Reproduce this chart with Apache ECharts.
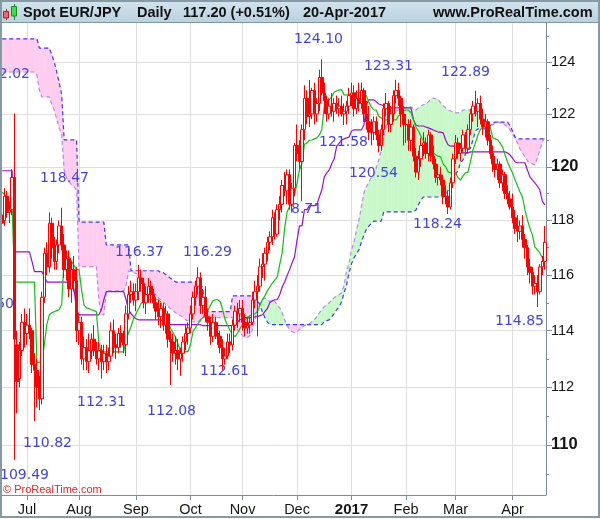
<!DOCTYPE html>
<html><head><meta charset="utf-8">
<script src="https://cdn.jsdelivr.net/npm/echarts@6/dist/echarts.min.js"></script>
<style>html,body{margin:0;padding:0;background:#fff}#c{width:600px;height:519px}</style>
</head><body><div id="c"></div>
<script>
// ---------- DATA ----------
const dates = [
'2016-06-17','2016-06-20','2016-06-21','2016-06-22','2016-06-23','2016-06-24','2016-06-27','2016-06-28','2016-06-29','2016-06-30',
'2016-07-01','2016-07-04','2016-07-05','2016-07-06','2016-07-07','2016-07-08','2016-07-11','2016-07-12','2016-07-13','2016-07-14','2016-07-15','2016-07-18','2016-07-19','2016-07-20','2016-07-21','2016-07-22','2016-07-25','2016-07-26','2016-07-27','2016-07-28','2016-07-29',
'2016-08-01','2016-08-02','2016-08-03','2016-08-04','2016-08-05','2016-08-08','2016-08-09','2016-08-10','2016-08-11','2016-08-12','2016-08-15','2016-08-16','2016-08-17','2016-08-18','2016-08-19','2016-08-22','2016-08-23','2016-08-24','2016-08-25','2016-08-26','2016-08-29','2016-08-30','2016-08-31',
'2016-09-01','2016-09-02','2016-09-05','2016-09-06','2016-09-07','2016-09-08','2016-09-09','2016-09-12','2016-09-13','2016-09-14','2016-09-15','2016-09-16','2016-09-19','2016-09-20','2016-09-21','2016-09-22','2016-09-23','2016-09-26','2016-09-27','2016-09-28','2016-09-29','2016-09-30',
'2016-10-03','2016-10-04','2016-10-05','2016-10-06','2016-10-07','2016-10-10','2016-10-11','2016-10-12','2016-10-13','2016-10-14','2016-10-17','2016-10-18','2016-10-19','2016-10-20','2016-10-21','2016-10-24','2016-10-25','2016-10-26','2016-10-27','2016-10-28','2016-10-31',
'2016-11-01','2016-11-02','2016-11-03','2016-11-04','2016-11-07','2016-11-08','2016-11-09','2016-11-10','2016-11-11','2016-11-14','2016-11-15','2016-11-16','2016-11-17','2016-11-18','2016-11-21','2016-11-22','2016-11-23','2016-11-24','2016-11-25','2016-11-28','2016-11-29','2016-11-30',
'2016-12-01','2016-12-02','2016-12-05','2016-12-06','2016-12-07','2016-12-08','2016-12-09','2016-12-12','2016-12-13','2016-12-14','2016-12-15','2016-12-16','2016-12-19','2016-12-20','2016-12-21','2016-12-22','2016-12-23','2016-12-26','2016-12-27','2016-12-28','2016-12-29','2016-12-30',
'2017-01-02','2017-01-03','2017-01-04','2017-01-05','2017-01-06','2017-01-09','2017-01-10','2017-01-11','2017-01-12','2017-01-13','2017-01-16','2017-01-17','2017-01-18','2017-01-19','2017-01-20','2017-01-23','2017-01-24','2017-01-25','2017-01-26','2017-01-27','2017-01-30','2017-01-31',
'2017-02-01','2017-02-02','2017-02-03','2017-02-06','2017-02-07','2017-02-08','2017-02-09','2017-02-10','2017-02-13','2017-02-14','2017-02-15','2017-02-16','2017-02-17','2017-02-20','2017-02-21','2017-02-22','2017-02-23','2017-02-24','2017-02-27','2017-02-28',
'2017-03-01','2017-03-02','2017-03-03','2017-03-06','2017-03-07','2017-03-08','2017-03-09','2017-03-10','2017-03-13','2017-03-14','2017-03-15','2017-03-16','2017-03-17','2017-03-20','2017-03-21','2017-03-22','2017-03-23','2017-03-24','2017-03-27','2017-03-28','2017-03-29','2017-03-30','2017-03-31',
'2017-04-03','2017-04-04','2017-04-05','2017-04-06','2017-04-07','2017-04-10','2017-04-11','2017-04-12','2017-04-13','2017-04-14','2017-04-17','2017-04-18','2017-04-19','2017-04-20'
];

const openP = [
118.2,118.0,118.9,118.3,118.4,119.6,113.5,112.3,113.3,114.3,
113.9,114.2,114.0,112.8,112.6,112.0,111.6,115.2,116.8,116.3,
117.9,117.0,116.5,117.1,117.8,117.1,116.2,116.6,115.5,116.2,
115.8,114.0,114.3,113.0,113.4,112.9,113.3,113.7,113.3,113.0,
113.3,112.9,113.2,112.9,113.1,114.0,113.5,113.4,113.9,113.6,
113.5,114.6,115.3,115.4,115.1,115.4,115.9,115.7,115.0,115.3,
115.6,115.3,115.0,114.7,114.5,114.8,114.2,114.6,113.7,113.6,
113.2,113.3,113.0,113.2,113.6,113.9,114.1,114.6,115.2,115.6,
115.9,114.9,115.2,114.5,114.3,113.8,114.3,113.9,113.8,113.4,
113.0,113.1,113.6,113.5,114.2,114.7,114.6,114.8,114.3,114.1,
114.2,114.3,115.1,115.4,115.6,116.3,116.4,116.8,117.2,117.4,
118.1,117.5,118.4,118.6,119.3,119.1,119.7,118.6,119.2,120.8,
120.5,120.2,121.4,122.6,121.9,122.0,122.9,122.0,122.4,123.4,
122.8,122.5,122.0,122.3,122.1,122.4,122.2,122.3,122.0,122.1,
122.3,122.7,122.8,122.2,122.6,122.4,122.9,122.0,121.7,121.3,
121.3,121.7,121.2,120.8,121.4,122.2,122.4,121.6,122.0,122.7,
122.9,122.6,122.0,121.6,121.6,121.0,121.5,120.4,119.8,120.3,
120.8,120.9,120.5,121.2,120.4,120.1,119.6,119.7,119.5,118.9,
118.9,118.5,119.4,120.3,120.9,120.5,120.7,121.2,120.7,121.4,
122.0,122.3,122.1,122.4,121.8,121.5,121.7,121.0,120.5,120.1,
119.9,120.1,119.4,119.7,119.0,118.8,118.5,118.1,117.7,117.6,
117.8,117.3,117.0,116.3,116.1,115.6,115.7,115.4,116.3,116.5
];
const highP = [
118.6,119.2,119.1,118.7,119.9,122.02,114.0,113.6,114.6,114.8,
114.6,114.8,114.1,113.2,113.0,112.4,115.4,117.0,117.2,118.3,
118.1,117.4,117.3,118.0,118.47,117.5,116.9,116.9,116.5,116.7,
116.3,114.6,114.5,113.8,113.7,113.9,113.9,114.2,113.6,113.6,
113.5,113.5,113.5,113.4,114.3,114.4,113.9,114.1,114.2,114.0,
114.9,115.6,115.8,115.7,115.7,116.37,116.2,115.9,115.6,115.9,
115.8,115.5,115.2,115.1,115.0,115.0,114.9,114.7,114.0,113.9,
113.8,113.7,113.4,113.8,114.2,114.3,114.9,115.4,115.8,116.29,
116.1,115.5,115.6,114.8,114.5,114.6,114.5,114.3,114.0,113.7,
113.4,113.9,113.9,114.4,114.9,115.0,115.1,115.1,114.6,114.5,
114.5,115.4,115.8,116.0,116.6,116.8,117.0,117.4,117.6,118.4,
118.3,118.6,118.9,119.5,119.8,119.9,119.9,119.4,120.9,121.6,
121.0,121.6,123.1,122.9,123.3,123.0,123.2,122.6,123.7,124.10,
123.2,122.7,122.6,122.8,122.6,122.7,122.6,122.7,122.4,122.5,
123.0,123.2,123.1,122.9,123.2,123.2,123.0,122.5,122.3,121.8,
121.9,121.9,121.4,121.6,122.4,122.8,122.5,122.3,122.9,123.31,
123.2,122.7,122.3,122.0,121.8,121.8,121.6,120.7,120.6,121.1,
121.3,121.1,121.4,121.3,120.8,120.3,119.9,120.0,119.7,119.3,
119.1,119.6,120.5,121.2,121.1,120.9,121.4,121.3,121.6,122.2,
122.5,122.89,122.6,122.7,122.2,122.0,121.8,121.2,120.8,120.4,
120.3,120.2,119.9,119.8,119.3,119.1,119.0,118.4,118.2,118.0,
118.2,117.5,117.1,116.6,116.3,116.0,116.0,116.4,116.7,117.8
];
const lowP = [
117.6,117.8,118.1,117.9,118.2,109.49,111.1,112.0,113.1,113.4,
113.5,113.7,112.5,110.82,111.3,111.2,111.4,115.0,116.0,116.1,
116.6,116.2,116.2,116.8,116.9,115.9,115.8,115.2,115.0,115.4,
113.6,113.5,112.8,112.6,112.6,112.5,113.0,113.1,112.8,112.6,
112.31,112.6,112.5,112.6,113.0,113.2,113.0,113.2,113.4,113.2,
113.1,114.4,115.0,114.9,114.7,115.1,115.4,114.8,114.6,115.0,
115.0,114.8,114.4,114.2,114.1,114.0,113.9,113.4,112.08,112.9,
112.8,112.6,112.4,112.9,113.3,113.5,113.9,114.4,114.9,115.3,
114.6,114.6,114.3,114.0,113.5,113.6,113.7,113.5,113.2,112.61,
112.8,113.0,113.2,113.3,114.0,114.1,114.3,114.0,113.8,113.9,
113.9,114.2,114.8,113.8,115.4,115.9,115.8,116.5,116.9,117.1,
117.3,117.4,118.0,118.3,118.9,118.6,118.4,118.3,118.9,120.2,
119.9,118.71,121.0,121.6,121.5,121.8,121.6,121.7,122.1,122.7,
122.0,121.7,121.8,121.9,121.7,122.0,121.9,121.9,121.58,121.6,
122.0,122.3,121.9,122.0,122.1,122.2,121.7,121.4,121.0,120.8,
121.0,121.0,120.54,120.6,121.2,121.9,121.3,121.3,121.7,122.4,
122.3,121.5,120.8,120.9,120.6,120.6,120.2,119.6,119.5,120.0,
120.4,120.3,120.2,120.2,119.9,119.4,119.3,119.3,118.6,118.6,
118.24,118.4,119.2,120.1,120.3,120.2,120.5,120.5,120.5,121.2,
121.7,121.9,121.5,121.6,121.2,121.1,120.8,120.3,119.8,119.6,
119.5,119.2,119.1,118.8,118.6,118.4,117.9,117.5,117.2,117.3,
117.0,116.6,116.0,115.7,115.3,115.3,114.85,115.3,116.0,116.2
];
const closeP = [
117.9,118.9,118.3,118.4,119.6,113.7,112.2,113.3,114.3,113.9,
114.2,114.0,112.8,112.6,112.0,111.6,115.2,116.8,116.3,117.9,
117.0,116.5,117.1,117.8,117.1,116.2,116.6,115.5,116.2,115.8,
114.0,114.3,113.0,113.4,112.9,113.3,113.7,113.3,113.0,113.3,
112.9,113.2,112.9,113.1,114.0,113.5,113.4,113.9,113.6,113.5,
114.6,115.3,115.4,115.1,115.4,115.9,115.7,115.0,115.3,115.6,
115.3,115.0,114.7,114.5,114.8,114.2,114.6,113.7,113.6,113.2,
113.3,113.0,113.2,113.6,113.9,114.1,114.6,115.2,115.6,115.9,
114.9,115.2,114.5,114.3,113.8,114.3,113.9,113.8,113.4,113.0,
113.1,113.6,113.5,114.2,114.7,114.6,114.8,114.3,114.1,114.2,
114.3,115.1,115.4,115.6,116.3,116.4,116.8,117.2,117.4,118.1,
117.5,118.4,118.6,119.3,119.1,119.7,118.6,119.2,120.8,120.5,
120.2,121.4,122.6,121.9,122.0,122.9,122.0,122.4,123.4,122.8,
122.5,122.0,122.3,122.1,122.4,122.2,122.3,122.0,122.1,122.3,
122.7,122.8,122.2,122.6,122.4,122.9,122.0,121.7,121.3,121.3,
121.7,121.2,120.8,121.4,122.2,122.4,121.6,122.0,122.7,122.9,
122.6,122.0,121.6,121.6,121.0,121.5,120.4,119.8,120.3,120.8,
120.9,120.5,121.2,120.4,120.1,119.6,119.7,119.5,118.9,118.9,
118.5,119.4,120.3,120.9,120.5,120.7,121.2,120.7,121.4,122.0,
122.3,122.1,122.4,121.8,121.5,121.7,121.0,120.5,120.1,119.9,
120.1,119.4,119.7,119.0,118.8,118.5,118.1,117.7,117.6,117.8,
117.3,117.0,116.3,116.1,115.6,115.7,115.4,116.3,116.5,117.2
];
// Tenkan-sen (green)
const tenkan = [
119.06,118.95,118.76,118.58,118.51,115.75,115.75,115.75,115.75,115.75,
115.75,115.75,115.75,115.75,112.88,112.88,112.88,113.51,114.22,114.57,
114.64,114.68,114.72,114.75,114.95,116.63,116.67,116.67,116.49,116.35,
116.20,116.20,115.47,114.93,114.82,114.79,114.75,114.72,114.68,113.58,
113.23,113.25,113.25,113.25,113.25,113.25,113.25,113.25,113.25,113.25,
113.69,113.93,114.15,114.43,114.61,114.79,114.97,115.07,115.11,115.11,
115.11,115.11,115.11,115.11,115.04,114.68,114.47,114.25,114.08,113.93,
113.76,113.51,113.26,113.26,113.26,113.26,113.51,113.97,114.11,114.25,
114.39,114.47,114.61,114.72,114.90,115.07,115.11,115.11,115.04,114.75,
114.39,114.18,114.00,113.86,113.79,113.93,114.08,114.22,114.39,114.47,
114.54,114.57,114.61,114.68,114.90,115.11,115.25,115.43,115.57,115.71,
115.82,115.93,116.38,116.81,117.72,118.32,118.51,118.76,118.95,119.39,
119.88,120.15,120.85,120.90,121.00,121.01,121.05,121.09,121.20,121.40,
122.30,122.54,122.54,122.65,122.84,122.88,122.92,122.92,122.73,122.73,
122.73,122.77,122.81,122.81,122.81,122.81,122.81,122.69,122.46,122.27,
122.15,122.15,121.90,121.85,121.77,121.77,121.77,121.77,121.77,121.77,
121.93,122.00,122.11,122.15,122.15,122.04,121.77,121.50,121.35,121.16,
121.00,120.85,120.70,120.59,120.52,120.45,120.40,120.37,120.10,120.00,
119.81,119.77,119.77,119.77,119.59,119.50,119.66,119.77,119.80,120.18,
120.63,120.90,121.20,121.40,121.50,121.58,121.62,121.50,121.10,121.05,
121.01,120.89,120.74,120.44,120.18,119.96,119.77,119.51,119.28,119.06,
118.87,118.39,118.02,117.72,117.47,117.03,116.92,116.81,116.63,116.56
];
// Kijun-sen (purple)
const kijun = [
119.85,119.85,119.85,119.85,119.85,116.85,116.85,116.85,116.85,116.85,
116.85,116.85,116.50,116.13,116.13,116.13,116.13,115.95,115.75,115.75,
115.75,115.75,115.75,115.75,115.75,115.75,115.75,115.75,115.75,115.47,
114.75,114.57,114.57,114.57,114.57,114.57,114.57,114.57,114.57,114.57,
114.75,115.11,115.40,115.40,115.40,115.40,115.40,115.40,115.40,115.40,
115.11,114.75,114.61,114.50,114.43,114.39,114.39,114.39,114.39,114.39,
114.39,114.39,114.39,114.39,114.39,114.32,114.25,114.22,114.22,114.22,
114.22,114.22,114.22,114.22,114.22,114.22,114.22,114.22,114.22,114.22,
114.22,114.18,114.18,114.18,114.18,114.18,114.18,114.18,114.18,114.18,
114.18,114.18,114.18,114.18,114.22,114.32,114.39,114.43,114.47,114.47,
114.47,114.47,114.50,114.50,114.54,114.57,114.68,114.79,115.00,115.07,
115.11,115.11,115.29,115.57,115.75,115.99,116.20,116.45,116.67,117.28,
117.80,117.80,118.40,118.40,118.55,118.55,118.55,118.58,118.87,119.13,
119.62,119.77,119.88,120.11,120.30,120.78,120.89,121.01,121.05,121.09,
121.12,121.35,121.39,121.39,121.39,121.39,121.58,122.35,122.54,122.54,
122.54,122.46,122.38,122.35,122.31,122.27,122.23,122.23,122.23,122.23,
122.23,122.23,122.23,122.23,122.23,122.23,121.77,121.58,121.54,121.54,
121.54,121.50,121.47,121.43,121.39,121.35,121.31,121.31,121.28,121.01,
120.82,120.78,120.78,120.78,120.78,120.63,120.52,120.52,120.52,120.56,
120.56,120.56,120.56,120.56,120.56,120.56,120.56,120.56,120.56,120.56,
120.56,120.56,120.56,120.56,120.52,120.44,120.33,120.18,120.15,120.15,
120.15,120.15,119.88,119.62,119.51,119.40,119.28,119.13,118.72,118.58
];
// Senkou span A (light purple dashed)
const spanA = [
123.61,123.61,123.61,123.61,123.61,123.61,123.61,123.61,123.61,123.61,
123.61,123.61,123.61,123.61,123.49,122.92,122.65,122.65,122.65,122.65,
122.38,122.15,121.81,121.47,121.20,119.88,119.59,119.43,119.32,119.25,
119.13,116.31,116.31,116.31,116.31,116.31,116.31,116.31,116.31,115.11,
114.57,114.57,115.43,115.43,115.43,115.43,115.43,115.43,115.43,115.43,
115.64,116.16,116.13,116.09,116.06,116.02,115.88,115.75,115.64,115.54,
115.47,115.36,115.29,115.18,115.11,115.04,114.93,114.86,114.79,114.72,
114.64,114.57,114.54,114.47,114.39,114.36,114.32,114.32,114.32,114.32,
114.32,114.47,114.47,114.47,114.47,114.47,114.47,114.47,114.47,114.47,
114.47,114.47,114.47,114.47,114.22,114.04,113.93,113.83,113.76,113.76,
113.83,114.04,114.39,114.75,114.93,115.11,115.18,115.11,115.04,115.11,
115.04,114.93,114.82,114.64,114.39,114.18,114.04,113.97,113.93,113.97,
114.04,114.11,114.18,114.22,114.25,114.32,114.39,114.50,114.64,114.75,
114.86,114.93,115.00,115.11,115.18,115.25,115.29,115.36,115.64,116.13,
116.45,116.92,117.21,117.65,118.02,118.51,119.02,119.25,119.43,119.59,
119.70,119.96,120.26,120.63,121.09,121.54,121.81,121.92,122.04,122.11,
122.15,122.19,122.23,122.23,122.27,122.27,122.19,122.15,122.23,122.31,
122.35,122.38,122.46,122.58,122.61,122.58,122.54,122.42,122.31,122.23,
122.15,122.11,122.07,122.04,122.04,122.07,122.15,122.15,122.15,122.15,
122.11,122.07,121.96,121.85,121.77,121.69,121.66,121.62,121.58,121.66,
121.69,121.66,121.62,121.58,121.50,121.39,121.24,121.09,120.89,120.67,
120.52,120.37,120.22,120.15,120.11,120.07,120.33,120.63,120.93,121.09
];
// Senkou span B (blue dashed)
const spanB = [
124.90,124.90,124.90,124.90,124.90,124.90,124.90,124.90,124.90,124.90,
124.90,124.90,124.90,124.90,124.90,124.54,124.54,124.54,124.54,124.54,
124.27,124.00,123.61,123.19,122.73,121.01,121.01,121.01,121.01,121.01,
121.01,117.94,117.94,117.94,117.94,117.94,117.94,117.94,117.94,117.94,
117.94,117.94,117.10,117.10,117.10,117.10,117.10,117.10,117.10,117.10,
117.10,117.10,116.16,116.16,116.16,116.16,116.16,116.16,116.16,116.16,
116.16,116.16,116.16,116.16,116.09,116.09,116.02,115.95,115.88,115.81,
115.75,115.75,115.75,115.75,115.75,115.75,115.75,115.75,115.75,115.75,
115.75,115.47,114.68,114.68,114.68,114.68,114.68,114.68,114.68,114.68,
114.68,114.68,114.68,115.25,115.25,115.25,115.25,115.25,115.25,115.25,
115.25,115.25,115.22,115.11,114.93,114.68,114.47,114.32,114.22,114.22,
114.22,114.22,114.22,114.22,114.22,114.22,114.22,114.22,114.22,114.22,
114.22,114.22,114.22,114.22,114.22,114.22,114.22,114.22,114.22,114.22,
114.32,114.36,114.39,114.50,114.61,114.75,114.86,115.04,115.36,115.64,
116.09,116.42,116.63,116.78,116.92,117.21,117.47,117.68,117.79,117.90,
117.98,117.98,117.98,117.98,118.32,118.32,118.32,118.32,118.32,118.32,
118.32,118.32,118.32,118.32,118.32,118.32,118.32,118.39,118.58,118.76,
118.87,118.87,118.87,118.87,118.87,118.87,118.87,118.87,118.87,118.91,
119.13,119.32,119.51,119.70,119.88,120.15,120.26,120.48,120.63,120.70,
121.01,121.35,121.43,121.43,121.43,121.43,121.47,121.54,121.66,121.69,
121.69,121.69,121.69,121.69,121.69,121.54,121.35,121.12,121.05,121.05,
121.05,121.05,121.05,121.05,121.05,121.05,121.05,121.05,121.05,121.05
];
const yTicks = [110,112,114,116,118,120,122,124];
const yMinorTicks = [109,111,113,115,117,119,121,123,125];
const monthNames = ['Jan','Feb','Mar','Apr','May','Jun','Jul','Aug','Sep','Oct','Nov','Dec'];
// annotation labels as printed on the chart: [text, x, y, align]
const notes = [
 ['122.02',30,74,'right'],['118.47',40,178,'left'],['116.37',115,252.5,'left'],['116.29',183,252,'left'],
 ['112.31',77,402,'left'],['112.08',147,411.5,'left'],['110.82',23,443.5,'left'],['109.49',0,475.5,'left'],
 ['112.61',200,371,'left'],['8.71',291,209,'left'],['124.10',294,39,'left'],['123.31',413,66,'right'],
 ['121.58',319,142.5,'left'],['120.54',349,173,'left'],['122.89',441,72.5,'left'],['118.24',413,224,'left'],
 ['114.85',495,321,'left'],['115.50',14,304,'right']
];

// ---------- CHART ----------
const Y_MIN = 108.29, Y_MAX = 125.52;
const AXIS = '#7a8c97', GRID = '#dedede';
const PINK = '#ffcdf0', GREEN = '#c9f9c9';
const SANS = '"Liberation Sans", Arial, Helvetica, sans-serif';
const monthStart = new Set();
for (let i = 1; i < dates.length; i++) {
  if (dates[i].slice(5,7) !== dates[i-1].slice(5,7)) monthStart.add(i);
}
const isMonth = (idx) => monthStart.has(idx);
const candleData = dates.map((d, i) => [openP[i], closeP[i], lowP[i], highP[i]]);
const cloudData = dates.slice(0, -1).map((d, i) => [i, spanA[i], spanB[i]]);

const chart = echarts.init(document.getElementById('c'), null, {renderer: 'canvas'});

const graphics = [
  {type:'rect', z:100, silent:true, shape:{x:0,y:0,width:600,height:22},
   style:{fill:new echarts.graphic.LinearGradient(0,0,0,1,[{offset:0,color:'#d3e4ee'},{offset:1,color:'#bad2df'}])}},
  {type:'line', z:100, silent:true, shape:{x1:0,y1:22.5,x2:600,y2:22.5}, style:{stroke:'#7f96a4',lineWidth:1}},
  {type:'line', z:101, shape:{x1:6.5,y1:9,x2:6.5,y2:20}, style:{stroke:'#b02020',lineWidth:1}},
  {type:'rect', z:101, shape:{x:3.5,y:11.5,width:5,height:6.5}, style:{fill:'#f06868',stroke:'#b02020',lineWidth:1}},
  {type:'line', z:101, shape:{x1:14.5,y1:4,x2:14.5,y2:20}, style:{stroke:'#208a20',lineWidth:1}},
  {type:'rect', z:101, shape:{x:11.5,y:6.5,width:5,height:9.5}, style:{fill:'#44dd44',stroke:'#208a20',lineWidth:1}},
  {type:'rect', z:100, silent:true, shape:{x:1,y:1,width:598,height:516}, style:{fill:'none',stroke:'#8899a6',lineWidth:2}},
  {type:'text', z:5, x:3, y:489.5, style:{text:'\u00a9 ProRealTime.com', font:'11px '+SANS, fill:'#e02828', textVerticalAlign:'middle', verticalAlign:'middle'}}
];
const headerTexts = [['Spot EUR/JPY',23],['Daily',137],['117.20 (+0.51%)',183],['20-Apr-2017',303],['www.ProRealTime.com',433]];
headerTexts.forEach(([t,x]) => graphics.push({type:'text', z:101, x:x, y:12.5,
  style:{text:t, font:'bold 14.5px '+SANS, fill:'#111', textVerticalAlign:'middle', verticalAlign:'middle'}}));
notes.forEach(([t,x,y,al]) => graphics.push({type:'text', z:2.5, x:x, y:y, silent:true,
  style:{text:t, font:'14px "DejaVu Sans", Verdana, sans-serif', fill:'#4444dc', textAlign:al, align:al, textVerticalAlign:'middle', verticalAlign:'middle'}}));

chart.setOption({
  animation: false,
  backgroundColor: '#ffffff',
  grid: {left: 1, right: 54, top: 23, bottom: 24},
  xAxis: {
    type: 'category', data: dates, boundaryGap: true,
    axisLine: {show: true, lineStyle: {color: AXIS, width: 1}},
    axisTick: {show: true, alignWithLabel: true, interval: isMonth, length: 5, lineStyle: {color: AXIS}},
    axisLabel: {show: true, interval: isMonth, margin: 7, color: '#151515', fontSize: 14.5, fontFamily: SANS,
      formatter: (v) => { const m = +v.slice(5,7); return m === 1 ? '{b|' + v.slice(0,4) + '}' : monthNames[m-1]; },
      rich: {b: {fontWeight: 'bold', fontSize: 15, fontFamily: SANS, color: '#151515'}}},
    splitLine: {show: true, interval: isMonth, alignWithLabel: true, lineStyle: {color: GRID, width: 1}}
  },
  yAxis: [{
    type: 'log', logBase: 10, min: Y_MIN, max: Y_MAX, position: 'right',
    axisLine: {show: true, lineStyle: {color: AXIS, width: 1}},
    axisTick: {show: true, customValues: yTicks, length: 6, lineStyle: {color: AXIS}},
    axisLabel: {show: true, customValues: yTicks, margin: 5, color: '#151515', fontSize: 14.5, fontFamily: SANS,
      formatter: (v) => { const r = Math.round(v); return r % 10 === 0 ? '{b|' + r + '}' : String(r); },
      rich: {b: {fontWeight: 'bold', fontSize: 16.5, fontFamily: SANS, color: '#151515'}}},
    splitLine: {show: true, lineStyle: {color: GRID, width: 1}},
    minorTick: {show: false}, minorSplitLine: {show: false}
  }, {
    type: 'log', logBase: 10, min: Y_MIN, max: Y_MAX, position: 'right',
    axisLine: {show: false},
    axisTick: {show: true, customValues: yMinorTicks, length: 3, lineStyle: {color: AXIS}},
    axisLabel: {show: false}, splitLine: {show: false}
  }],
  graphic: {elements: graphics},
  series: [
    {
      type: 'custom', name: 'cloud', z: 1, silent: true, clip: true,
      xAxisIndex: 0, yAxisIndex: 0,
      data: cloudData, encode: {x: 0, y: [1, 2]},
      renderItem: (params, api) => {
        const i = params.dataIndex;
        const a0 = api.coord([i, spanA[i]]), a1 = api.coord([i + 1, spanA[i + 1]]);
        const b0 = api.coord([i, spanB[i]]), b1 = api.coord([i + 1, spanB[i + 1]]);
        const d0 = spanA[i] - spanB[i], d1 = spanA[i + 1] - spanB[i + 1];
        const col = (d) => (d > 0 ? GREEN : PINK);
        if (d0 * d1 >= 0) {
          const c = col(d0 !== 0 ? d0 : d1);
          return {type: 'polygon', shape: {points: [a0, a1, b1, b0]}, style: {fill: c, stroke: c, lineWidth: 0.6}};
        }
        const y0 = a0[1] - b0[1], y1 = a1[1] - b1[1];
        const t = y0 / (y0 - y1);
        const cp = [a0[0] + t * (a1[0] - a0[0]), a0[1] + t * (a1[1] - a0[1])];
        return {type: 'group', children: [
          {type: 'polygon', shape: {points: [a0, cp, b0]}, style: {fill: col(d0), stroke: col(d0), lineWidth: 0.6}},
          {type: 'polygon', shape: {points: [cp, a1, b1]}, style: {fill: col(d1), stroke: col(d1), lineWidth: 0.6}}
        ]};
      }
    },
    {type: 'line', name: 'Span A', data: spanA, z: 2, symbol: 'none', silent: true,
      lineStyle: {color: '#c184ec', width: 1.2, type: [4, 3]}},
    {type: 'line', name: 'Span B', data: spanB, z: 2, symbol: 'none', silent: true,
      lineStyle: {color: '#3c3cf2', width: 1.2, type: [4, 3]}},
    {type: 'line', name: 'Kijun', data: kijun, z: 3, symbol: 'none', silent: true,
      lineStyle: {color: '#9a10cc', width: 1.2}},
    {type: 'line', name: 'Tenkan', data: tenkan, z: 3, symbol: 'none', silent: true,
      lineStyle: {color: '#10c010', width: 1.2}},
    {type: 'candlestick', name: 'EUR/JPY', data: candleData, z: 4, silent: true, barWidth: 3,
      itemStyle: {color: '#ffffff', color0: '#ff0000', borderColor: '#ff0000', borderColor0: '#ff0000', borderWidth: 1}}
  ]
});
</script>
</body></html>
